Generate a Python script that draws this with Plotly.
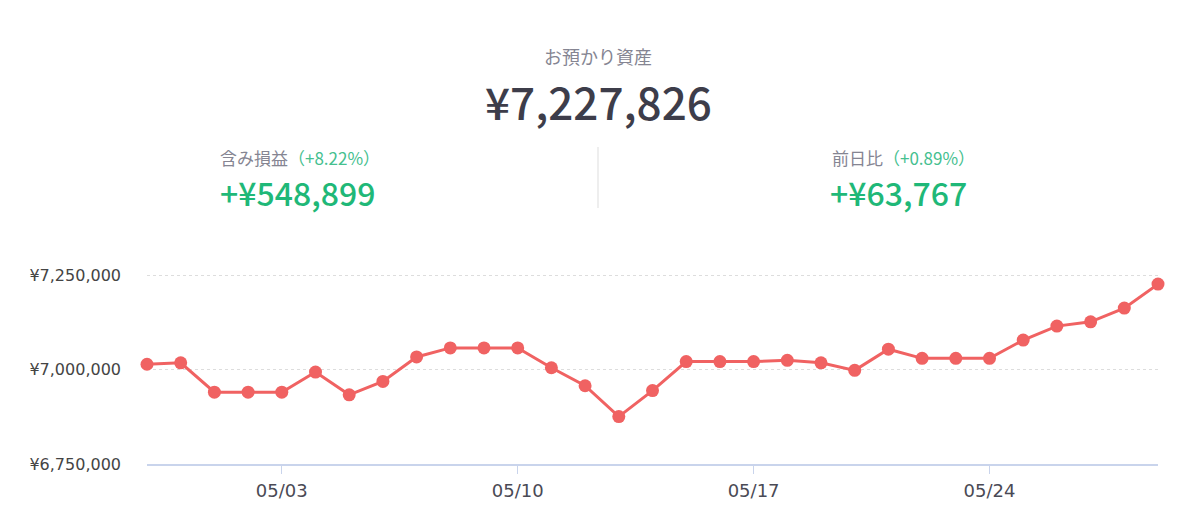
import plotly.graph_objects as go

dates = ["2021-04-29", "2021-04-30", "2021-05-01", "2021-05-02", "2021-05-03", "2021-05-04",
         "2021-05-05", "2021-05-06", "2021-05-07", "2021-05-08", "2021-05-09", "2021-05-10",
         "2021-05-11", "2021-05-12", "2021-05-13", "2021-05-14", "2021-05-15", "2021-05-16",
         "2021-05-17", "2021-05-18", "2021-05-19", "2021-05-20", "2021-05-21", "2021-05-22",
         "2021-05-23", "2021-05-24", "2021-05-25", "2021-05-26", "2021-05-27", "2021-05-28",
         "2021-05-29"]
assets = [7015000, 7018700, 6940800, 6940800, 6940800, 6994300,
          6933800, 6969400, 7034300, 7058400, 7058400, 7058400,
          7005700, 6957900, 6875900, 6945000, 7022100, 7022100,
          7022100, 7025400, 7018700, 6998700, 7055000, 7030600,
          7030600, 7030600, 7079200, 7116300, 7127700, 7164059,
          7227826]

x_tickvals = ["2021-05-03", "2021-05-10", "2021-05-17", "2021-05-24"]
x_ticktext = ["05/03", "05/10", "05/17", "05/24"]
y_tickvals = [6750000, 7000000, 7250000]
y_ticktext = ["¥6,750,000", "¥7,000,000", "¥7,250,000"]

title_label = "お預かり資産"
total_value = "¥7,227,826"
left_label = "含み損益"
left_pct = "（+8.22%）"
left_value = "+¥548,899"
right_label = "前日比"
right_pct = "（+0.89%）"
right_value = "+¥63,767"

LINE = "#f06262"
GREEN = "#1fb878"
GREEN_L = "#45c08f"
GRAY = "#858592"
DARK = "#3d3d4a"
FONT = "Noto Sans CJK JP"

OFF = 8  # body margin of the html page
W, H = 1200 - OFF, 525 - OFF
ml, mr, mt, mb = 147 - OFF, 42, 272 - OFF, 61

fig = go.Figure()
fig.add_trace(go.Scatter(
    x=dates, y=assets, mode="lines+markers",
    line=dict(color=LINE, width=3),
    marker=dict(color=LINE, size=13),
    cliponaxis=False, hoverinfo="x+y", showlegend=False,
))

fig.update_layout(
    width=W, height=H,
    margin=dict(l=ml, r=mr, t=mt, b=mb, pad=0),
    paper_bgcolor="white", plot_bgcolor="white",
    font=dict(family=FONT, color="#444"),
    xaxis=dict(
        type="date", range=[dates[0], dates[-1]],
        tickvals=x_tickvals, ticktext=x_ticktext,
        showgrid=False, zeroline=False,
        showline=True, linecolor="#c9d4ec", linewidth=2,
        ticks="outside", ticklen=8, tickcolor="#c9d4ec", tickwidth=1,
        ticklabelstandoff=1,
        tickfont=dict(family="DejaVu Sans", size=18, color="#4a4a55"),
    ),
    yaxis=dict(
        range=[6750000, 7260000],
        tickvals=y_tickvals, ticktext=y_ticktext,
        showgrid=True, gridcolor="#dddddd", griddash="dot", gridwidth=1,
        zeroline=False, showline=False, ticks="", ticklen=0,
        ticklabelstandoff=25,
        tickfont=dict(family="DejaVu Sans", size=16, color="#444"),
        automargin=False,
    ),
)

def px(xp, yp):
    xp -= OFF
    yp -= OFF
    return (xp - ml) / (W - ml - mr), (H - mb - yp) / (H - mt - mb)

anns = []
def add_text(xp, yp, text, size, color, weight=400):
    x, y = px(xp, yp)
    anns.append(dict(x=x, y=y, xref="paper", yref="paper", text=text, showarrow=False,
                     xanchor="center", yanchor="middle",
                     font=dict(family=FONT, size=size, color=color, weight=weight)))

add_text(598, 56, title_label, 18, GRAY)
add_text(598, 101, total_value, 44, DARK, 500)
add_text(300, 157, f"<span style='color:{GRAY}'>{left_label}</span>"
                   f"<span style='color:{GREEN_L}'>{left_pct}</span>", 17, GRAY)
add_text(297, 192, left_value, 32, GREEN, 500)
add_text(903, 157, f"<span style='color:{GRAY}'>{right_label}</span>"
                   f"<span style='color:{GREEN_L}'>{right_pct}</span>", 17, GRAY)
add_text(898, 192, right_value, 32, GREEN, 500)
fig.update_layout(annotations=anns)

x0, y0 = px(598, 147)
x1, y1 = px(598, 208)
fig.add_shape(type="line", xref="paper", yref="paper", x0=x0, x1=x1, y0=y0, y1=y1,
              line=dict(color="#dddddd", width=1))

fig.write_html("out.html")
